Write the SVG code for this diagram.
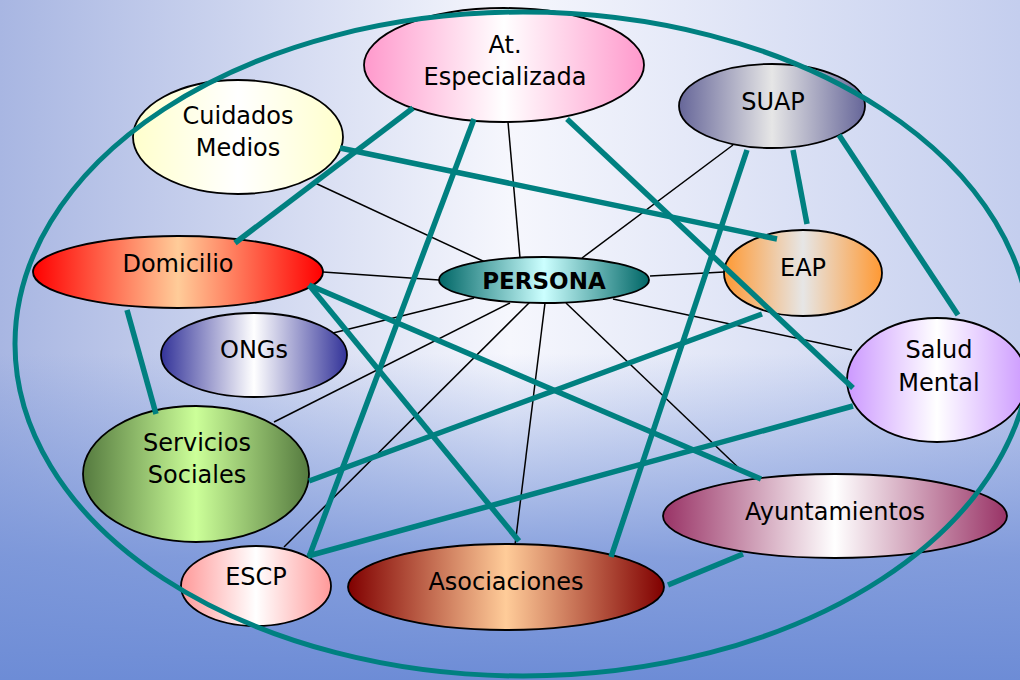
<svg xmlns="http://www.w3.org/2000/svg" width="1020" height="680" viewBox="0 0 1020 680">
<style>
.node{stroke:#000;stroke-width:1.8}
.lbl{font-family:"DejaVu Sans","Liberation Sans",sans-serif;font-size:24px;fill:#000;text-anchor:middle}
.thin line{stroke:#000;stroke-width:1.5}
.thick line{stroke:#008080;stroke-width:5.5}
</style>
<defs>
<linearGradient id="bgH" x1="0" y1="0" x2="1" y2="0">
<stop offset="0" stop-color="#a8b6e2"/>
<stop offset="0.5" stop-color="#f6f7fd"/>
<stop offset="1" stop-color="#c4ceee"/>
</linearGradient>
<linearGradient id="bgV" gradientUnits="userSpaceOnUse" x1="0" y1="0" x2="0" y2="680">
<stop offset="0" stop-color="#7290d8" stop-opacity="0"/>
<stop offset="0.52" stop-color="#7290d8" stop-opacity="0"/>
<stop offset="0.82" stop-color="#7592d8" stop-opacity="0.85"/>
<stop offset="1" stop-color="#6d8cd6" stop-opacity="1"/>
</linearGradient>
<linearGradient id="gAt"><stop offset="0" stop-color="#ff99cc"/><stop offset="0.5" stop-color="#ffffff"/><stop offset="1" stop-color="#ff99cc"/></linearGradient>
<linearGradient id="gCM"><stop offset="0" stop-color="#ffffcc"/><stop offset="0.5" stop-color="#ffffff"/><stop offset="1" stop-color="#ffffcc"/></linearGradient>
<linearGradient id="gDom"><stop offset="0" stop-color="#ff0000"/><stop offset="0.5" stop-color="#ffcc99"/><stop offset="1" stop-color="#ff0000"/></linearGradient>
<linearGradient id="gPer"><stop offset="0" stop-color="#006666"/><stop offset="0.5" stop-color="#ccffff"/><stop offset="1" stop-color="#006666"/></linearGradient>
<linearGradient id="gSUAP"><stop offset="0" stop-color="#666699"/><stop offset="0.5" stop-color="#e6e6e6"/><stop offset="1" stop-color="#666699"/></linearGradient>
<linearGradient id="gEAP"><stop offset="0" stop-color="#ff9933"/><stop offset="0.5" stop-color="#e6e6e6"/><stop offset="1" stop-color="#ff9933"/></linearGradient>
<linearGradient id="gSM"><stop offset="0" stop-color="#cc99ff"/><stop offset="0.5" stop-color="#ffffff"/><stop offset="1" stop-color="#cc99ff"/></linearGradient>
<linearGradient id="gONG"><stop offset="0" stop-color="#333399"/><stop offset="0.5" stop-color="#ffffff"/><stop offset="1" stop-color="#333399"/></linearGradient>
<linearGradient id="gSS"><stop offset="0" stop-color="#557a3f"/><stop offset="0.5" stop-color="#ccff99"/><stop offset="1" stop-color="#557a3f"/></linearGradient>
<linearGradient id="gESCP"><stop offset="0" stop-color="#ff9999"/><stop offset="0.5" stop-color="#ffffff"/><stop offset="1" stop-color="#ff9999"/></linearGradient>
<linearGradient id="gAso"><stop offset="0" stop-color="#800000"/><stop offset="0.5" stop-color="#ffcc99"/><stop offset="1" stop-color="#800000"/></linearGradient>
<linearGradient id="gAyu"><stop offset="0" stop-color="#993366"/><stop offset="0.5" stop-color="#ffffff"/><stop offset="1" stop-color="#993366"/></linearGradient>
</defs>
<rect width="1020" height="680" fill="url(#bgH)"/>
<rect width="1020" height="680" fill="url(#bgV)"/>
<g id="connectors-thin" class="thin">
<line x1="508" y1="122" x2="520" y2="258"/>
<line x1="315" y1="183" x2="485" y2="262"/>
<line x1="323" y1="272" x2="439" y2="280"/>
<line x1="733" y1="145" x2="582" y2="258"/>
<line x1="650" y1="276" x2="724" y2="272"/>
<line x1="613" y1="299" x2="852" y2="350"/>
<line x1="333" y1="333" x2="474" y2="298"/>
<line x1="274" y1="422" x2="510" y2="303"/>
<line x1="284" y1="547" x2="530" y2="302"/>
<line x1="515" y1="545" x2="545" y2="303"/>
<line x1="744" y1="473" x2="566" y2="303"/>
</g>
<g id="at-especializada"><ellipse class="node" cx="504" cy="65" rx="140" ry="57" fill="url(#gAt)"/><text class="lbl" x="505" y="53">At.</text><text class="lbl" x="505" y="85">Especializada</text></g>
<g id="cuidados-medios"><ellipse class="node" cx="238" cy="137" rx="105" ry="57" fill="url(#gCM)"/><text class="lbl" x="238" y="124">Cuidados</text><text class="lbl" x="238" y="156">Medios</text></g>
<g id="domicilio"><ellipse class="node" cx="178" cy="272" rx="145" ry="36" fill="url(#gDom)"/><text class="lbl" x="178" y="272">Domicilio</text></g>
<g id="persona"><ellipse class="node" cx="544" cy="280" rx="105" ry="23" fill="url(#gPer)"/><text class="lbl" x="544" y="289" font-weight="bold" style="font-size:23px">PERSONA</text></g>
<g id="suap"><ellipse class="node" cx="772" cy="106" rx="93" ry="42" fill="url(#gSUAP)"/><text class="lbl" x="773" y="110">SUAP</text></g>
<g id="eap"><ellipse class="node" cx="803" cy="273" rx="79" ry="43" fill="url(#gEAP)"/><text class="lbl" x="803" y="276">EAP</text></g>
<g id="salud-mental"><ellipse class="node" cx="937" cy="380" rx="90" ry="62" fill="url(#gSM)"/><text class="lbl" x="939" y="358">Salud</text><text class="lbl" x="939" y="391">Mental</text></g>
<g id="ongs"><ellipse class="node" cx="254" cy="355" rx="93" ry="42" fill="url(#gONG)"/><text class="lbl" x="254" y="358">ONGs</text></g>
<g id="servicios-sociales"><ellipse class="node" cx="196" cy="474" rx="113" ry="68" fill="url(#gSS)"/><text class="lbl" x="197" y="451">Servicios</text><text class="lbl" x="197" y="483">Sociales</text></g>
<g id="escp"><ellipse class="node" cx="256" cy="586" rx="75" ry="40" fill="url(#gESCP)"/><text class="lbl" x="256" y="585">ESCP</text></g>
<g id="asociaciones"><ellipse class="node" cx="506" cy="587" rx="158" ry="43" fill="url(#gAso)"/><text class="lbl" x="506" y="590">Asociaciones</text></g>
<g id="ayuntamientos"><ellipse class="node" cx="835" cy="516" rx="172" ry="42" fill="url(#gAyu)"/><text class="lbl" x="835" y="520">Ayuntamientos</text></g>
<g id="connectors-thick" class="thick">
<line x1="413" y1="108" x2="235" y2="243"/>
<line x1="474" y1="119" x2="309" y2="557"/>
<line x1="567" y1="119" x2="853" y2="388"/>
<line x1="340" y1="148" x2="777" y2="239"/>
<line x1="747" y1="150" x2="611" y2="557"/>
<line x1="793" y1="150" x2="807" y2="224"/>
<line x1="839" y1="135" x2="958" y2="315"/>
<line x1="127" y1="310" x2="156" y2="414"/>
<line x1="309" y1="285" x2="519" y2="541"/>
<line x1="309" y1="285" x2="761" y2="479"/>
<line x1="309" y1="481" x2="762" y2="314"/>
<line x1="308" y1="556" x2="853" y2="406"/>
<line x1="668" y1="585" x2="743" y2="554"/>
</g>
<ellipse id="boundary" cx="523" cy="344" rx="508" ry="332" fill="none" stroke="#008080" stroke-width="5"/>
</svg>
